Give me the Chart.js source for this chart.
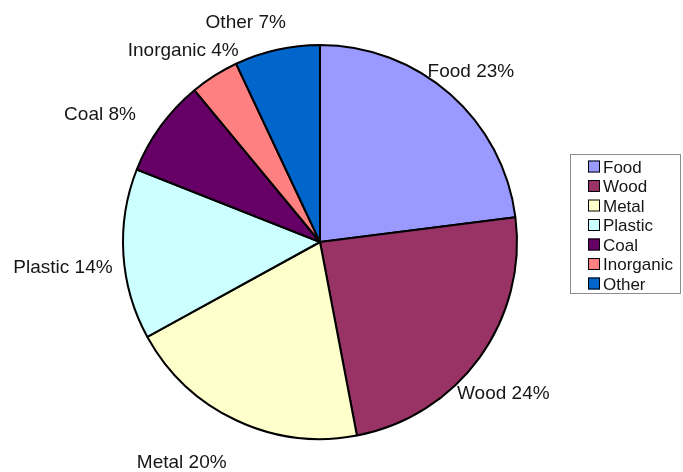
<!DOCTYPE html>
<html>
<head>
<meta charset="utf-8">
<script src="https://cdn.jsdelivr.net/npm/chart.js@4/dist/chart.umd.min.js"></script>
<style>
  html, body { margin: 0; padding: 0; background: #ffffff; }
  #wrap { width: 683px; height: 472px; }
</style>
</head>
<body>
<div id="wrap"><canvas id="c" width="683" height="472"></canvas></div>
<script>
// Waste composition by category (percent)
const categories = ['Food', 'Wood', 'Metal', 'Plastic', 'Coal', 'Inorganic', 'Other'];
const shares = [23, 24, 20, 14, 8, 4, 7];
const sliceColors = ['#9999FF', '#993366', '#FFFFCC', '#CCFFFF', '#660066', '#FF8080', '#0066CC'];

// Where each slice label sits: [distance from pie centre, angular shift in degrees]
const labelSpots = [[228.6, -0.1], [237.2, 3.4], [258.8, 7.1], [258.1, -1.7], [254.8, -5.7], [236.7, -2.9], [232.9, -6.0]];

const labelFont = '19px "Liberation Sans", Arial, sans-serif';
const legendFont = '17px "Liberation Sans", Arial, sans-serif';

// Category + percentage text outside every slice
const sliceLabels = {
  id: 'sliceLabels',
  afterDatasetsDraw(chart) {
    const ctx = chart.ctx;
    const meta = chart.getDatasetMeta(0);
    ctx.save();
    ctx.font = labelFont;
    ctx.fillStyle = '#161616';
    ctx.textAlign = 'center';
    ctx.textBaseline = 'alphabetic';
    meta.data.forEach((arc, i) => {
      const p = arc.getProps(['x', 'y', 'startAngle', 'endAngle'], true);
      const spot = labelSpots[i];
      const mid = (p.startAngle + p.endAngle) / 2 + spot[1] * Math.PI / 180;
      const lx = p.x + Math.cos(mid) * spot[0];
      const ly = p.y + Math.sin(mid) * spot[0];
      const text = chart.data.labels[i] + ' ' + chart.data.datasets[0].data[i] + '%';
      ctx.fillText(text, lx, ly + 0.358 * 19);
    });
    ctx.restore();
  }
};

// Boxed legend to the right of the pie
const boxedLegend = {
  id: 'boxedLegend',
  afterDraw(chart) {
    const ctx = chart.ctx;
    const ds = chart.data.datasets[0];
    ctx.save();
    ctx.strokeStyle = '#8c8c8c';
    ctx.lineWidth = 1;
    ctx.strokeRect(570.5, 154.5, 110, 139);
    ctx.font = legendFont;
    ctx.textAlign = 'left';
    ctx.textBaseline = 'alphabetic';
    chart.data.labels.forEach((lab, i) => {
      const yc = 166.5 + i * 19.5;
      ctx.fillStyle = ds.backgroundColor[i];
      ctx.fillRect(588, yc - 6, 12, 12);
      ctx.strokeStyle = '#000000';
      ctx.strokeRect(588.5, yc - 5.5, 11, 11);
      ctx.fillStyle = '#161616';
      ctx.fillText(lab, 603, yc + 6);
    });
    ctx.restore();
  }
};

new Chart(document.getElementById('c'), {
  type: 'pie',
  data: {
    labels: categories,
    datasets: [{
      data: shares,
      backgroundColor: sliceColors,
      borderColor: '#000000',
      borderWidth: 2
    }]
  },
  options: {
    responsive: false,
    animation: false,
    devicePixelRatio: 1,
    radius: 197,
    layout: { padding: { left: 120, right: 163, top: 42, bottom: 30 } },
    plugins: {
      legend: { display: false },
      tooltip: { enabled: false }
    }
  },
  plugins: [sliceLabels, boxedLegend]
});
</script>
</body>
</html>
